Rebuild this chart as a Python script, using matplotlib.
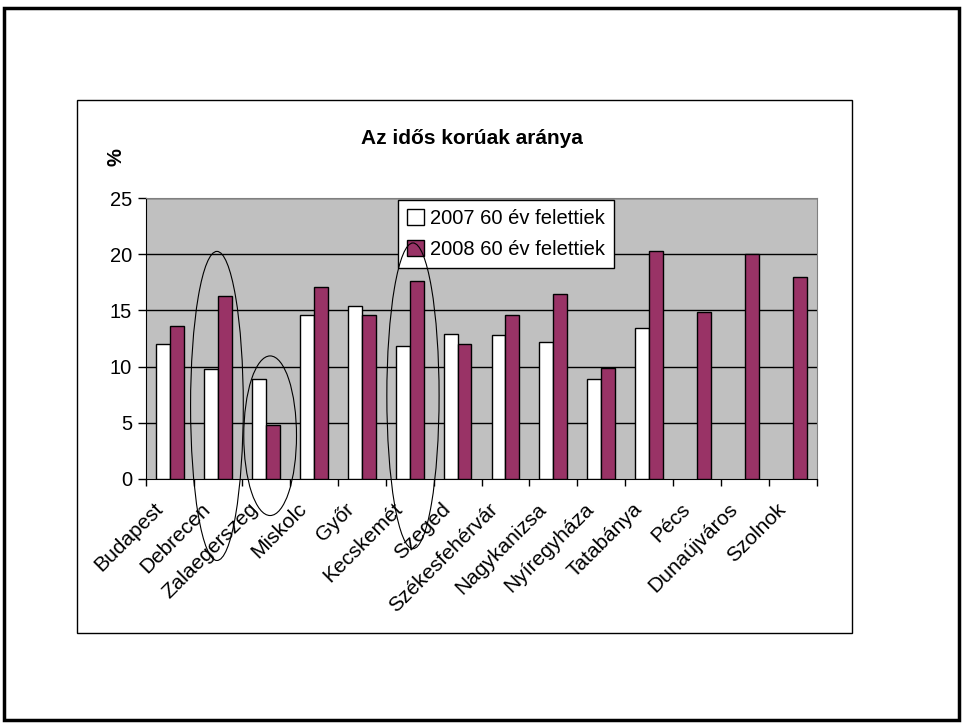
import numpy as np
import matplotlib.pyplot as plt
from matplotlib.patches import Ellipse, Rectangle

plt.rcParams['font.family'] = ['Liberation Sans', 'DejaVu Sans']

cities = ['Budapest', 'Debrecen', 'Zalaegerszeg', 'Miskolc', 'Győr', 'Kecskemét',
          'Szeged', 'Székesfehérvár', 'Nagykanizsa', 'Nyíregyháza', 'Tatabánya',
          'Pécs', 'Dunaújváros', 'Szolnok']
share_2007 = [12.0, 9.8, 8.9, 14.6, 15.4, 11.8, 12.9, 12.8, 12.2, 8.9, 13.4,
              np.nan, np.nan, np.nan]
share_2008 = [13.6, 16.3, 4.8, 17.1, 14.6, 17.6, 12.0, 14.6, 16.5, 9.9, 20.3,
              14.9, 20.0, 18.0]
label_2007 = '2007 60 év felettiek'
label_2008 = '2008 60 év felettiek'
yticks = [0, 5, 10, 15, 20, 25]

# hand-drawn ellipses on the slide: (x center, y center, width, height) in data units
circles = [(0.98, 6.5, 1.1, 27.5), (2.09, 3.85, 1.1, 14.2), (5.07, 7.4, 1.09, 27.2)]

def main():
    W, H = 963, 726
    fig = plt.figure(figsize=(W / 100, H / 100), dpi=100)

    # outer slide frame and inner chart frame
    fig.patches.append(Rectangle((4 / W, 1 - 720 / H), 955 / W, 712 / H, transform=fig.transFigure,
                                 fill=False, edgecolor='black', linewidth=2.5))
    fig.patches.append(Rectangle((77 / W, 1 - 633 / H), 775 / W, 533 / H, transform=fig.transFigure,
                                 fill=False, edgecolor='black', linewidth=1))

    ax = fig.add_axes([146 / W, 1 - 479 / H, 671 / W, 281 / H])
    ax.set_facecolor('#C0C0C0')

    x = np.arange(len(cities))
    bw = 0.29
    b1 = ax.bar(x - bw / 2, share_2007, bw, color='white', edgecolor='black', linewidth=1,
                label=label_2007, zorder=3)
    b2 = ax.bar(x + bw / 2, share_2008, bw, color='#993366', edgecolor='black', linewidth=1,
                label=label_2008, zorder=3)

    ax.set_xlim(-0.5, len(cities) - 0.5)
    ax.set_ylim(0, 25)
    ax.set_yticks(yticks)
    ax.set_yticklabels([str(t) for t in yticks], fontsize=14.5)
    for t in yticks[1:]:
        ax.axhline(t, color='black', linewidth=1, zorder=1)

    # category labels: Excel puts the end of each rotated label a bit left of the centre
    ax.set_xticks(x)
    ax.set_xticklabels([])
    for i, name in enumerate(cities):
        ax.annotate(name, xy=(i, 0), xycoords='data', xytext=(-7.5, -19.5),
                    textcoords='offset points', rotation=45, ha='right', va='center',
                    rotation_mode='anchor', fontsize=15, annotation_clip=False)
    ax.set_xticks(np.arange(len(cities) + 1) - 0.5, minor=True)
    ax.tick_params(axis='x', which='major', length=0)
    ax.tick_params(axis='x', which='minor', length=5, width=1, direction='out')
    ax.tick_params(axis='y', length=6, width=1, direction='out', pad=4)

    ax.spines['top'].set_color('#808080')
    ax.spines['right'].set_color('#808080')
    ax.spines['left'].set_color('black')
    ax.spines['bottom'].set_color('black')

    for cx, cy, w, h in circles:
        ax.add_patch(Ellipse((cx, cy), w, h, fill=False, edgecolor='black', linewidth=0.8,
                             clip_on=False, zorder=5))

    leg = ax.legend(handles=[b1, b2], loc='upper left', bbox_to_anchor=(398 / W, 1 - 200 / H),
                    bbox_transform=fig.transFigure, fontsize=14.5, fancybox=False, framealpha=1,
                    edgecolor='black', handlelength=0.85, handleheight=0.85, handletextpad=0.3,
                    borderpad=0.45, labelspacing=0.6, borderaxespad=0)
    leg.get_frame().set_linewidth(1)
    leg.set_zorder(4)

    fig.text(472 / W, 1 - 139 / H, 'Az idős korúak aránya', ha='center', va='center',
             fontsize=15, fontweight='bold')
    fig.text(116 / W, 1 - 157 / H, '%', ha='center', va='center', rotation=90,
             fontsize=14.5, fontweight='bold')

    fig.savefig('out.png', dpi=100)

if __name__ == '__main__':
    main()
